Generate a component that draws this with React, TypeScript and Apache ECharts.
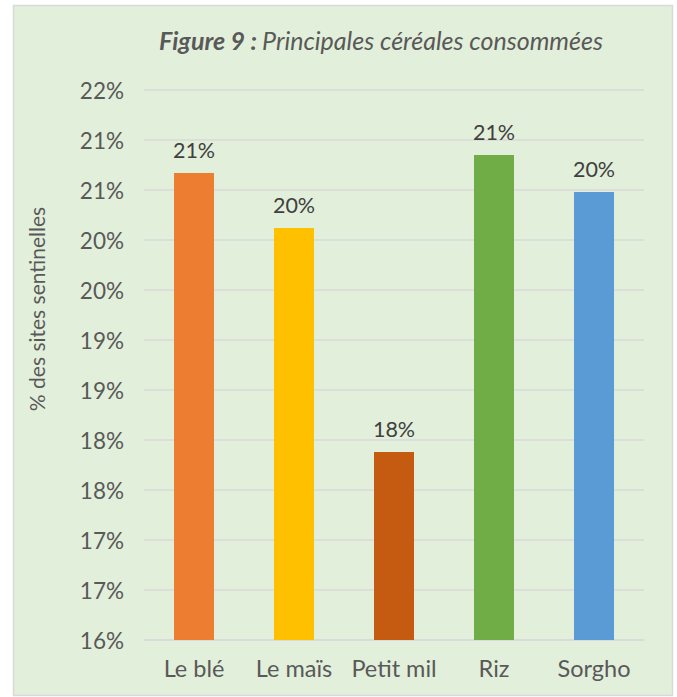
import React, { useEffect, useRef } from "react";
import * as echarts from "echarts";

const categories = ["Le blé", "Le maïs", "Petit mil", "Riz", "Sorgho"];
const values = [20.67, 20.12, 17.88, 20.85, 20.48];
const barColors = ["#ED7D31", "#FFC000", "#C55A11", "#70AD47", "#5B9BD5"];
const yMin = 16;
const yMax = 21.5;
const yStep = 0.5;

export default function App() {
  const ref = useRef<HTMLDivElement>(null);
  useEffect(() => {
    if (!ref.current) return;
    const chart = echarts.init(ref.current, null, { renderer: "svg" });
    const font = "Lato, 'Open Sans', sans-serif";
    chart.setOption({
      animation: false,
      backgroundColor: "#FFFFFF",
      graphic: [
        {
          type: "rect",
          z: -10,
          silent: true,
          shape: { x: 13.5, y: 5.5, width: 659, height: 690 },
          style: { fill: "#E2EFDA", stroke: "#D9D9D9", lineWidth: 1.5 },
        },
        {
          type: "text",
          x: 36,
          y: 309,
          rotation: Math.PI / 2,
          style: {
            text: "% des sites sentinelles",
            fill: "#595959",
            font: `21px ${font}`,
            align: "center",
            verticalAlign: "middle",
          },
        },
      ],
      title: {
        text: "{b|Figure 9 :} {i|Principales céréales consommées}",
        left: 376,
        textAlign: "center",
        top: 22,
        textStyle: {
          rich: {
            b: { fontFamily: font, fontSize: 25, fontWeight: "bold", fontStyle: "italic", color: "#595959" },
            i: { fontFamily: font, fontSize: 25, fontWeight: "normal", fontStyle: "italic", color: "#595959" },
          },
        },
      },
      grid: { left: 144, right: 33, top: 90, bottom: 57, containLabel: false },
      xAxis: {
        type: "category",
        data: categories,
        axisLine: { show: true, lineStyle: { color: "#D9D9D9", width: 1.5 } },
        axisTick: { show: false },
        axisLabel: { interval: 0, color: "#595959", fontSize: 23.5, fontFamily: font, margin: 16 },
      },
      yAxis: {
        type: "value",
        min: yMin,
        max: yMax,
        interval: yStep,
        axisLine: { show: false },
        axisTick: { show: false },
        splitLine: { lineStyle: { color: "#D9D9D9", width: 1.5 } },
        axisLabel: {
          color: "#595959",
          fontSize: 22.5,
          fontFamily: font,
          margin: 20,
          formatter: (v: number) => Math.round(v) + "%",
        },
      },
      series: [
        {
          type: "bar",
          barWidth: "40%",
          data: values.map((v, i) => ({ value: v, itemStyle: { color: barColors[i] } })),
          label: {
            show: true,
            position: "top",
            distance: 12,
            color: "#404040",
            fontSize: 21.5,
            fontFamily: font,
            formatter: (p: any) => Math.round(p.value) + "%",
          },
        },
      ],
    });
    return () => chart.dispose();
  }, []);
  return (
    <div
      ref={ref}
      style={{ position: "fixed", left: 0, top: 0, width: 677, height: 697 }}
    />
  );
}
